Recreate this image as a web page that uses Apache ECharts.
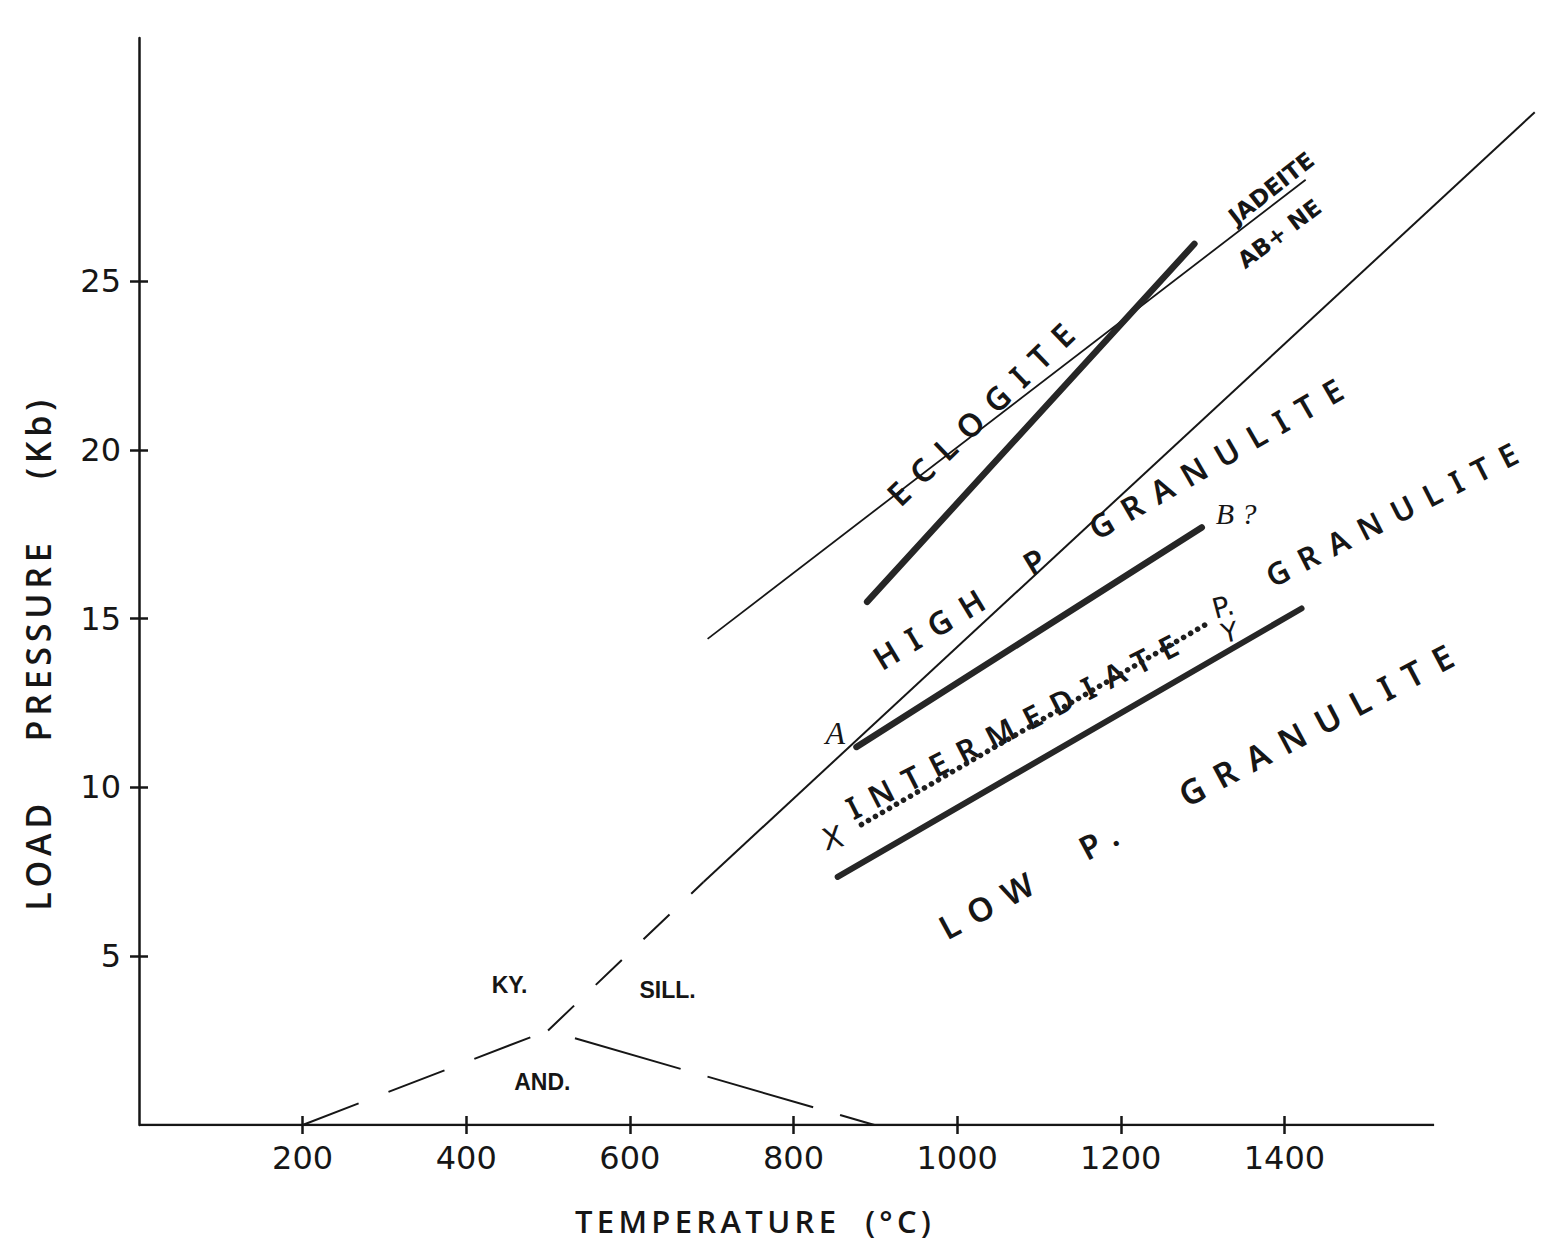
<!DOCTYPE html>
<html><head><meta charset="utf-8">
<script src="https://cdn.jsdelivr.net/npm/echarts@6/dist/echarts.min.js"></script>
<style>
html,body{margin:0;padding:0;background:#fff;}
#chart{width:1542px;height:1242px;}
#chart text[style*="Noto Sans"]{letter-spacing:0.42em;}
#chart text[style*="Open Sans"]{letter-spacing:0.14em;}
</style></head><body><div id="chart"></div>
<script>
// ---- axis ticks ----
const xTicks = [200, 400, 600, 800, 1000, 1200, 1400];
const yTicks = [5, 10, 15, 20, 25];
const xAxisEnd = 1583;   // drawn temperature axis ends here (°C)

// ---- phase boundaries [temperature °C, pressure kb] ----
const kyAnd = [[200, 0], [500, 2.8]];
const andSill = [[500, 2.8], [899, 0]];
const kySill = [[500, 2.8], [690, 7.2]];
const highPBoundary = [[690, 7.2], [1706, 30.0]];
const jadeiteLine = [[695, 14.4], [1426, 28.0]];
const eclogiteBoundary = [[890, 15.5], [1290, 26.1]];
const lineAB = [[877, 11.2], [1299, 17.7]];
const lineXY = [[883, 8.9], [1309, 14.9]];
const lowPBoundary = [[854, 7.35], [1421, 15.3]];

// ---- field labels ----
const regionText = ['ECLOGITE', 'HIGH', 'P', 'GRANULITE', 'INTERMEDIATE', 'GRANULITE', 'LOW', 'P.', 'GRANULITE'];
const regionT = [1034, 972, 1101, 1323, 1074, 1538, 1043, 1180, 1446];
const regionP = [21.2, 14.8, 16.8, 19.85, 11.9, 18.18, 6.6, 8.5, 11.95];

const noteText = ['P.', 'X', 'Y', 'JADEITE', 'AB+ NE', 'KY.', 'SILL.', 'AND.', 'A', 'B ?'];
const noteT = [1325, 848, 1333, 1384, 1394, 453, 646, 493, 851, 1341];
const noteP = [15.34, 8.5, 14.6, 27.75, 26.4, 4.15, 4.0, 1.27, 11.6, 18.1];

// ---- styles (not data) ----
const regionAngle = [44, 31, 31, 30, 27, 27, 28.5, 28, 28];
const regionSize = [32, 32, 32, 32, 31, 31, 33, 33, 34];
const noteStyle = [
  {rotate: 15, fontSize: 28, fontFamily: 'DejaVu Sans'},
  {rotate: 15, fontSize: 30, fontFamily: 'DejaVu Sans'},
  {rotate: 12, fontSize: 27, fontFamily: 'DejaVu Sans'},
  {rotate: 38, fontSize: 23, fontFamily: 'DejaVu Sans', fontWeight: 'bold'},
  {rotate: 37, fontSize: 23, fontFamily: 'DejaVu Sans', fontWeight: 'bold'},
  {rotate: 0, fontSize: 23, fontFamily: 'Liberation Sans', fontWeight: 'bold'},
  {rotate: 0, fontSize: 23, fontFamily: 'Liberation Sans', fontWeight: 'bold'},
  {rotate: 0, fontSize: 23, fontFamily: 'Liberation Sans', fontWeight: 'bold'},
  {rotate: 0, fontSize: 32, fontFamily: 'Liberation Serif', fontStyle: 'italic'},
  {rotate: 0, fontSize: 30, fontFamily: 'Liberation Serif', fontStyle: 'italic'}
];

const INK = '#161616';
function lineSeries(data, style, extra) {
  return Object.assign({
    type: 'line', data: data, showSymbol: false, symbol: 'none', silent: true,
    lineStyle: Object.assign({color: INK, width: 2}, style)
  }, extra || {});
}

const regionData = regionText.map((t, i) => ({
  value: [regionT[i], regionP[i]],
  label: {formatter: t, rotate: regionAngle[i], fontSize: regionSize[i]}
}));
const noteData = noteText.map((t, i) => ({
  value: [noteT[i], noteP[i]],
  label: Object.assign({formatter: t}, noteStyle[i])
}));

const plain = v => String(v);
const chart = echarts.init(document.getElementById('chart'), null, {renderer: 'svg'});
chart.setOption({
  animation: false,
  backgroundColor: '#fff',
  grid: {left: 139, right: 4, top: 38, bottom: 117, containLabel: false},
  xAxis: [{
    type: 'value', min: 0, max: 1710, interval: 200, position: 'bottom',
    axisLine: {show: false},
    axisTick: {show: true, length: 9, lineStyle: {color: INK, width: 2.5}, customValues: xTicks},
    axisLabel: {show: true, margin: 17, fontSize: 32, color: INK, fontFamily: 'DejaVu Sans', formatter: plain, customValues: xTicks},
    splitLine: {show: false}
  }, {
    type: 'value', min: 0, max: 1710, interval: 200, position: 'bottom',
    axisLine: {show: false},
    axisTick: {show: true, inside: true, length: 9, lineStyle: {color: INK, width: 2.5}, customValues: xTicks},
    axisLabel: {show: false},
    splitLine: {show: false}
  }],
  yAxis: [{
    type: 'value', min: 0, max: 32.2, interval: 5, position: 'left',
    axisLine: {show: true, lineStyle: {color: INK, width: 2.5}},
    axisTick: {show: true, length: 9, lineStyle: {color: INK, width: 2.5}, customValues: yTicks},
    axisLabel: {show: true, margin: 18, fontSize: 32, color: INK, fontFamily: 'DejaVu Sans', formatter: plain, customValues: yTicks},
    splitLine: {show: false}
  }, {
    type: 'value', min: 0, max: 32.2, interval: 5, position: 'left',
    axisLine: {show: false},
    axisTick: {show: true, inside: true, length: 9, lineStyle: {color: INK, width: 2.5}, customValues: yTicks},
    axisLabel: {show: false},
    splitLine: {show: false}
  }],
  graphic: [
    {type: 'text', x: 755, y: 1221, silent: true,
     style: {text: 'TEMPERATURE\u00a0\u00a0(°C)', fontFamily: 'Open Sans', fontSize: 31, fontWeight: 600,
             fill: INK, align: 'center', verticalAlign: 'middle'}},
    {type: 'text', x: 38, y: 855, rotation: Math.PI / 2, silent: true,
     style: {text: 'LOAD', fontFamily: 'Open Sans', fontSize: 34, fontWeight: 600,
             fill: INK, align: 'center', verticalAlign: 'middle'}},
    {type: 'text', x: 38, y: 640, rotation: Math.PI / 2, silent: true,
     style: {text: 'PRESSURE', fontFamily: 'Open Sans', fontSize: 34, fontWeight: 600,
             fill: INK, align: 'center', verticalAlign: 'middle'}},
    {type: 'text', x: 38, y: 437, rotation: Math.PI / 2, silent: true,
     style: {text: '(Kb)', fontFamily: 'Open Sans', fontSize: 34, fontWeight: 600,
             fill: INK, align: 'center', verticalAlign: 'middle'}}
  ],
  series: [
    lineSeries([[0, 0], [xAxisEnd, 0]], {width: 2.5}),
    lineSeries(kyAnd, {width: 2, type: [60, 32]}),
    lineSeries(andSill, {width: 2, type: [110, 28], dashOffset: 110}),
    lineSeries(kySill, {width: 2, type: [36, 30]}),
    lineSeries(highPBoundary, {width: 2}),
    lineSeries(jadeiteLine, {width: 1.8}),
    lineSeries(eclogiteBoundary, {width: 6.5, color: '#262626', cap: 'round'}),
    lineSeries(lineAB, {width: 6.5, color: '#262626', cap: 'round'}),
    lineSeries(lowPBoundary, {width: 6, color: '#262626', cap: 'round'}),
    lineSeries(lineXY, {width: 5.5, type: [0.1, 8], cap: 'round', color: '#1e1e1e'}),
    {
      type: 'scatter', data: regionData, symbolSize: 0, silent: true, clip: false,
      itemStyle: {opacity: 1},
      label: {show: true, position: 'inside', color: INK, fontSize: 32, fontFamily: 'Noto Sans', fontWeight: 600}
    },
    {
      type: 'scatter', data: noteData, symbolSize: 0, silent: true, clip: false,
      itemStyle: {opacity: 1},
      label: {show: true, position: 'inside', color: INK}
    }
  ]
});
</script></body></html>
